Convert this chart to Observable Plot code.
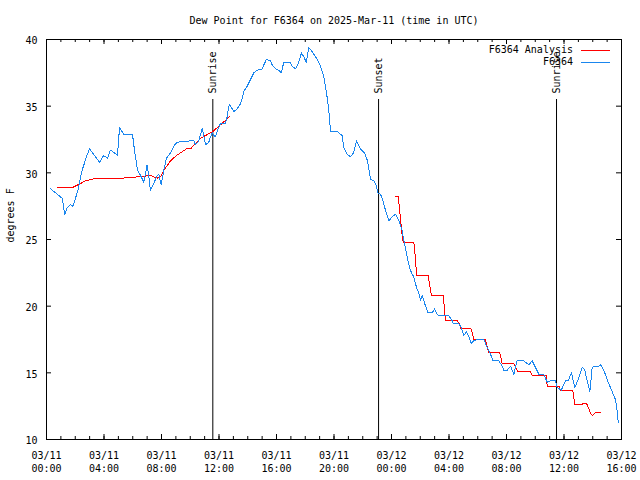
<!DOCTYPE html>
<html><head><meta charset="utf-8">
<script src="https://cdn.jsdelivr.net/npm/d3@7"></script>
<script src="https://cdn.jsdelivr.net/npm/@observablehq/plot@0.6"></script>
<style>
body{margin:0;background:#fff;}
#wrap{position:relative;width:640px;height:480px;font-family:"DejaVu Sans Mono",monospace;font-size:10px;color:#000;}
.leg{position:absolute;right:30px;display:flex;align-items:center;height:12px;line-height:12px;white-space:pre;}
.leg .key{display:inline-block;width:29px;height:0;border-top:1px solid;margin-left:8px;}
</style></head>
<body><div id="wrap"></div>
<script>
const titleText = "Dew Point for F6364 on 2025-Mar-11 (time in UTC)";
const yLabelText = "degrees F";
const seriesNames = ["F6364 Analysis", "F6364"];
const seriesColors = ["#ff0000", "#1a86ee"];

// hours since 2025-03-11 00:00 UTC
const obsHours = [0.28,0.51,0.74,0.97,1.09,1.27,1.44,1.67,1.83,2.02,2.21,2.37,2.48,2.78,2.99,3.2,3.41,3.69,3.97,4.24,4.45,4.73,4.94,5.08,5.36,5.98,6.12,6.33,6.54,6.77,7.0,7.12,7.23,7.46,7.7,7.81,7.98,8.16,8.35,8.63,8.9,9.11,10.02,10.25,10.37,10.59,10.83,10.94,11.06,11.29,11.41,11.53,11.64,11.76,11.87,12.1,12.45,12.57,12.68,12.75,12.92,13.03,13.27,13.5,13.61,13.73,13.96,14.19,14.42,14.66,15.01,15.12,15.3,15.58,15.7,15.93,16.16,16.33,16.51,16.93,17.09,17.32,17.55,17.74,17.9,18.07,18.25,18.48,18.78,19.06,19.29,19.48,19.64,19.76,20.22,20.57,20.68,20.92,21.15,21.36,21.57,21.84,22.12,22.33,22.54,22.77,22.96,23.05,23.23,23.35,23.58,23.81,24.05,24.28,24.51,24.74,24.86,24.97,25.09,25.27,25.44,25.55,25.74,25.9,26.02,26.14,26.25,26.37,26.55,26.83,26.99,27.18,27.29,27.64,27.99,28.22,28.29,28.68,28.85,29.03,29.22,29.38,29.54,29.73,29.96,30.42,30.66,30.89,31.07,31.46,31.7,31.81,32.05,32.28,32.4,32.51,32.74,33.2,33.55,33.79,34.02,34.25,34.59,34.83,35.06,35.41,35.53,35.81,36.1,36.29,36.52,36.75,36.99,37.27,37.45,37.61,37.8,37.96,38.07,38.42,38.54,38.77,39.0,39.23,39.46,39.58,39.7,39.77];
const obsValues = [28.8,28.6,28.4,28.2,28.1,26.9,27.4,27.6,27.5,28.1,28.8,29.7,30.2,31.2,31.8,31.5,31.2,30.8,31.3,31.1,31.7,31.5,31.3,33.4,32.9,32.9,31.7,30.2,29.8,29.3,30.6,29.7,28.7,29.2,29.8,29.9,29.1,30.2,31.1,31.5,32.1,32.3,32.4,32.4,32.1,32.4,33.3,32.8,32.1,32.3,32.7,33.0,32.8,32.7,33.1,33.7,33.7,34.2,35.0,35.1,34.8,34.6,34.8,35.2,35.6,36.1,36.5,37.0,37.5,37.7,37.8,38.1,38.5,38.4,38.1,37.8,37.7,37.5,38.3,38.3,38.0,37.8,38.3,39.0,38.7,38.3,39.4,39.1,38.6,38.0,37.2,36.0,34.7,33.1,33.1,32.8,31.9,31.4,31.2,31.5,32.4,31.8,31.5,30.9,29.5,29.4,29.0,28.5,28.4,28.1,27.2,26.4,26.7,26.9,26.4,25.7,24.9,24.4,23.7,22.8,22.4,22.2,21.4,21.0,20.4,20.8,20.4,20.0,19.5,19.5,19.8,19.4,19.3,19.3,19.3,18.9,18.7,18.7,18.4,17.8,18.1,17.7,17.2,17.4,17.5,17.5,16.9,16.4,15.9,15.9,15.5,15.2,15.2,15.5,15.2,14.9,15.9,15.9,15.6,15.9,15.4,14.9,14.9,14.3,14.4,14.4,13.9,13.7,14.4,14.4,15.0,13.9,14.5,15.4,15.2,14.4,13.6,15.4,15.5,15.5,15.6,15.2,14.5,13.9,13.3,13.0,12.1,11.3];

const anaHours = [0.77,1.81,2.37,2.71,3.06,3.62,5.29,6.4,7.23,7.7,7.93,8.16,8.63,9.04,9.46,9.74,10.02,10.71,11.06,11.57,12.1,12.73,
  NaN,
  24.28,24.51,24.52,24.74,24.81,25.55,25.67,25.74,26.55,26.78,27.6,27.76,28.57,28.71,28.83,29.54,29.73,30.54,30.77,31.53,31.7,32.51,32.79,33.67,33.79,34.78,34.83,35.64,35.76,36.61,36.75,37.15,37.36,37.57,37.84,37.96,38.19,38.54];
const anaValues = [28.9,28.9,29.2,29.4,29.5,29.6,29.6,29.7,29.8,29.6,29.7,30.2,30.9,31.3,31.6,31.8,31.8,32.6,32.8,33.1,33.6,34.2,
  NaN,
  28.2,28.2,27.7,25.3,24.8,24.8,23.6,22.3,22.3,20.8,20.8,18.9,18.9,18.7,18.3,18.3,17.5,17.5,16.5,16.5,15.7,15.7,15.1,15.1,14.8,14.8,14.0,14.0,13.7,13.7,12.6,12.6,12.7,12.7,12.0,11.8,12.0,12.0];

const eventNames = ["Sunrise", "Sunset", "Sunrise"];
const eventHours = [11.57, 23.1, 35.48];

const xMajorHours = [0,4,8,12,16,20,24,28,32,36,40];
const xMinorHours = d3.range(0, 41);
const yTicks = [10,15,20,25,30,35,40];

const base = Date.UTC(2025, 2, 11, 0, 0);
const toDate = h => new Date(base + h * 3600e3);

const obs = obsHours.map((h, i) => ({t: toDate(h), v: obsValues[i]}));
const ana = anaHours.map((h, i) => ({t: isNaN(h) ? null : toDate(h), v: anaValues[i]}));
const events = eventNames.map((n, i) => ({name: n, t: toDate(eventHours[i])}));
const majors = xMajorHours.map(toDate);
const minors = xMinorHours.map(toDate);

const W = 640, H = 480, ML = 46, MR = 19, MT = 39, MB = 41;
const FW = W - ML - MR, FH = H - MT - MB;

const chart = Plot.plot({
  width: W, height: H,
  marginLeft: ML, marginRight: MR, marginTop: MT, marginBottom: MB,
  style: {fontFamily: "DejaVu Sans Mono, monospace", fontSize: "10px", background: "white", color: "black"},
  x: {type: "utc", domain: [toDate(0), toDate(40)]},
  y: {domain: [10, 40]},
  marks: [
    Plot.tickX(minors, {x: d => d, insetTop: FH - 3, stroke: "black"}),
    Plot.tickX(minors, {x: d => d, insetBottom: FH - 3, stroke: "black"}),
    Plot.tickX(majors, {x: d => d, insetTop: FH - 5, stroke: "black"}),
    Plot.tickX(majors, {x: d => d, insetBottom: FH - 5, stroke: "black"}),
    Plot.tickY(yTicks, {y: d => d, insetRight: FW - 5, stroke: "black"}),
    Plot.tickY(yTicks, {y: d => d, insetLeft: FW - 5, stroke: "black"}),
    Plot.axisX({ticks: majors, tickSize: 0, tickPadding: 11, tickFormat: d3.utcFormat("%m/%d\n%H:%M"), lineHeight: 1.25, label: null}),
    Plot.axisY({ticks: yTicks, tickSize: 0, tickPadding: 9, dy: 1.5, label: null}),
    Plot.ruleX(events, {x: "t", y1: 35.5, y2: 10, stroke: "black", strokeWidth: 1}),
    Plot.text(events, {x: "t", y: 35.5, text: "name", rotate: -90, textAnchor: "start", lineAnchor: "middle", dy: -6}),
    Plot.line(ana, {x: "t", y: "v", stroke: seriesColors[0], strokeWidth: 1, shapeRendering: "crispEdges"}),
    Plot.line(obs, {x: "t", y: "v", stroke: seriesColors[1], strokeWidth: 1, shapeRendering: "crispEdges"}),
    Plot.frame({stroke: "black"}),
    Plot.text([titleText], {frameAnchor: "top", dy: -19, lineAnchor: "middle"}),
    Plot.text([yLabelText], {frameAnchor: "left", rotate: -90, dx: -36, dy: 3, lineAnchor: "middle"})
  ]
});

const wrap = document.getElementById("wrap");
wrap.appendChild(chart);
seriesNames.forEach((name, i) => {
  const row = document.createElement("div");
  row.className = "leg";
  row.style.top = (44 + 12 * i) + "px";
  const label = document.createElement("span");
  label.textContent = name;
  const key = document.createElement("span");
  key.className = "key";
  key.style.borderTopColor = seriesColors[i];
  row.appendChild(label);
  row.appendChild(key);
  wrap.appendChild(row);
});
</script>
</body></html>
